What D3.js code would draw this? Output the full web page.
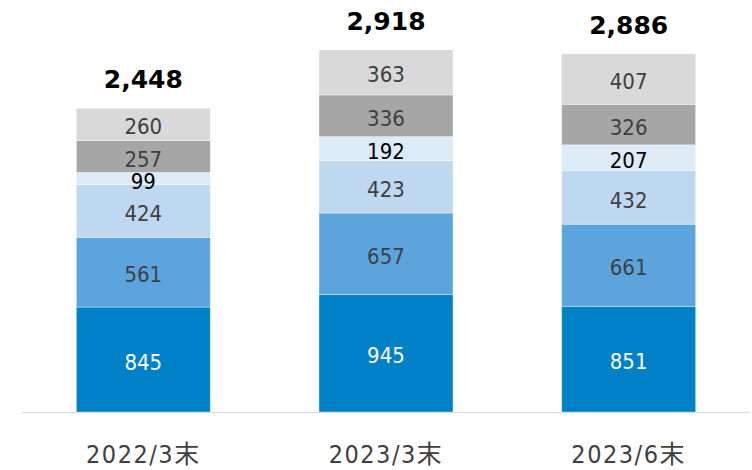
<!DOCTYPE html>
<html>
<head>
<meta charset="utf-8">
<script src="https://cdn.jsdelivr.net/npm/d3@7"></script>
<style>
  html, body { margin: 0; padding: 0; background: #fff; }
  svg text { font-family: "DejaVu Sans", Verdana, "Noto Sans CJK JP", sans-serif; }
  svg text.seg, svg text.cat { font-family: "DejaVu Sans Condensed", "DejaVu Sans", "Noto Sans CJK JP", sans-serif; font-stretch: condensed; }
</style>
</head>
<body>
<div id="chart"></div>
<script>
// categories along the x axis
const periods = ["2022/3末", "2023/3末", "2023/6末"];

// stacked series, bottom to top
const seriesA = [845, 945, 851];
const seriesB = [561, 657, 661];
const seriesC = [424, 423, 432];
const seriesD = [99, 192, 207];
const seriesE = [257, 336, 326];
const seriesF = [260, 363, 407];

// printed totals (as shown on the chart, rounded separately)
const totalLabels = [2448, 2918, 2886];

const seriesColors = ["#0080c6", "#5ca4dd", "#bed8ef", "#ddebf7", "#a6a6a6", "#d9d9d9"];
const labelColors = ["#ffffff", "#404040", "#404040", "#000000", "#404040", "#404040"];

function drawChart() {
    const width = 752, height = 470;
    const baseY = 412;

    const svg = d3.select("#chart").append("svg")
        .attr("width", width)
        .attr("height", height);

    const series = [seriesA, seriesB, seriesC, seriesD, seriesE, seriesF];
    const rows = periods.map((p, i) => {
        const row = { period: p };
        series.forEach((s, j) => { row["s" + j] = s[i]; });
        return row;
    });
    const keys = series.map((s, j) => "s" + j);
    const stacked = d3.stack().keys(keys)(rows);

    const x = d3.scaleBand()
        .domain(periods)
        .range([22, 750])
        .paddingInner(0.448)
        .paddingOuter(0.224);

    const y = d3.scaleLinear()
        .domain([0, 3000])
        .range([baseY, baseY - 3000 * 0.1242]);

    // baseline
    svg.append("line")
        .attr("x1", 22).attr("x2", 750)
        .attr("y1", baseY + 0.5).attr("y2", baseY + 0.5)
        .attr("stroke", "#d9d9d9")
        .attr("stroke-width", 1.2);

    const layers = svg.selectAll("g.layer")
        .data(stacked)
        .enter().append("g")
        .attr("class", "layer");

    layers.selectAll("rect")
        .data((d, j) => d.map(v => ({ v, j })))
        .enter().append("rect")
        .attr("x", (d, i) => x(periods[i]))
        .attr("width", x.bandwidth())
        .attr("y", d => y(d.v[1]))
        .attr("height", d => y(d.v[0]) - y(d.v[1]))
        .attr("fill", d => seriesColors[d.j])
        .attr("stroke", "rgba(255,255,255,0.45)")
        .attr("stroke-width", 0.8);

    layers.selectAll("text")
        .data((d, j) => d.map(v => ({ v, j })))
        .enter().append("text")
        .attr("class", "seg")
        .attr("x", (d, i) => x(periods[i]) + x.bandwidth() / 2)
        .attr("y", d => (y(d.v[0]) + y(d.v[1])) / 2)
        .attr("dy", "0.46em")
        .attr("text-anchor", "middle")
        .attr("font-size", 22)
        .attr("fill", d => labelColors[d.j])
        .text(d => d3.format(",")(d.v[1] - d.v[0]));

    // totals above bars
    svg.selectAll("text.total")
        .data(totalLabels)
        .enter().append("text")
        .attr("class", "total")
        .attr("x", (d, i) => x(periods[i]) + x.bandwidth() / 2)
        .attr("y", d => y(d) - 20)
        .attr("text-anchor", "middle")
        .attr("font-size", 25)
        .attr("font-weight", "bold")
        .attr("fill", "#000")
        .text(d => d3.format(",")(d));

    // category labels
    svg.selectAll("text.cat")
        .data(periods)
        .enter().append("text")
        .attr("class", "cat")
        .attr("x", d => x(d) + x.bandwidth() / 2)
        .attr("y", 463)
        .attr("text-anchor", "middle")
        .attr("font-size", 25)
        .attr("letter-spacing", 1.5)
        .attr("fill", "#404040")
        .text(d => d);
}

document.addEventListener("DOMContentLoaded", drawChart);
</script>
</body>
</html>
